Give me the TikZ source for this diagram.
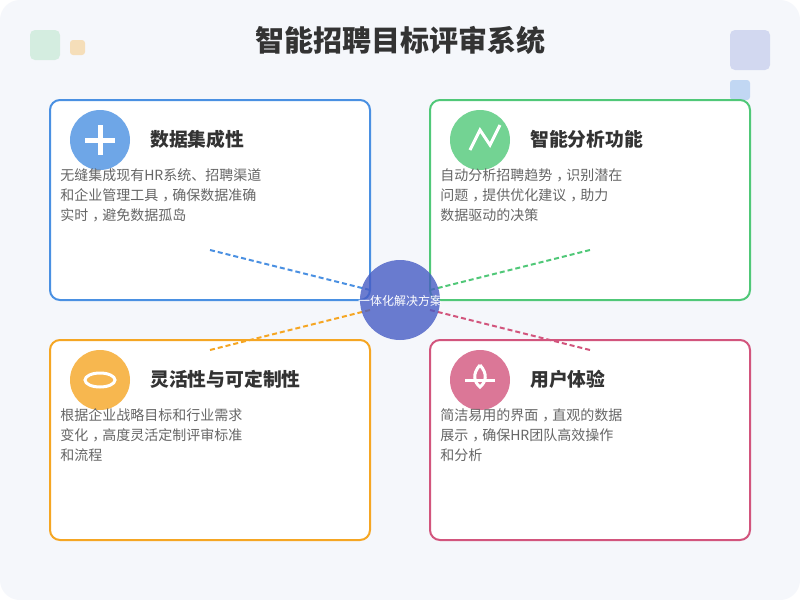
\documentclass[tikz,border=0pt]{standalone}
\usepackage{fontspec}
\setmainfont{Noto Sans CJK SC}
\definecolor{pagebg}{HTML}{F5F7FB}
\definecolor{cblue}{HTML}{4A90E2}
\definecolor{cgreen}{HTML}{50C878}
\definecolor{corange}{HTML}{F5A623}
\definecolor{cpink}{HTML}{D2557D}
\definecolor{cindigo}{HTML}{475CC4}
\definecolor{ctitle}{HTML}{333333}
\definecolor{cbody}{HTML}{666666}
\newcommand\cnc{\kern.3em，\kern-.3em}
\tikzset{
  x=0.75pt,y=-0.75pt,
  cardbox/.style={draw=#1,line width=1.5pt,fill=white,rounded corners=7.5pt,minimum width=240pt,minimum height=150pt,inner sep=0pt,anchor=center},
  iconcircle/.style={circle,fill=#1,fill opacity=0.8,minimum size=45pt,inner sep=0pt},
  icongl/.style={draw=white,line width=#1},
  headtext/.style={anchor=base west,inner sep=0pt,text=ctitle,font=\fontsize{14.1}{17}\selectfont\bfseries},
  bodytext/.style={anchor=north west,inner sep=0pt,align=left,text=cbody,font=\fontsize{10.5}{15}\selectfont},
  linkline/.style={draw=#1,line width=1.5pt,dash pattern=on 3.75pt off 2.25pt},
  decorsoft/.style={fill=#1,fill opacity=0.2},
  decorstrong/.style={fill=#1,fill opacity=0.3},
}
\begin{document}
\begin{tikzpicture}
\useasboundingbox (0,0) rectangle (800,600);
\fill[white] (0,0) rectangle (800,600);
\fill[pagebg,rounded corners=15pt] (0,0) rectangle (800,600);
% decoration
\fill[decorsoft=cgreen,rounded corners=3.75pt] (30,30) rectangle (60,60);
\fill[decorstrong=corange,rounded corners=2.25pt] (70,40) rectangle (85,55);
\fill[decorsoft=cindigo,rounded corners=3.75pt] (730,30) rectangle (770,70);
\fill[decorstrong=cblue,rounded corners=2.25pt] (730,80) rectangle (750,100);
% title
\node[anchor=base,inner sep=0pt,text=ctitle,font=\fontsize{21.75}{26}\selectfont\bfseries] (title) at (400,51.5) {智能招聘目标评审系统};
% cards
\node[cardbox=cblue] (cardA) at (210,200) {};
\node[cardbox=cgreen] (cardB) at (590,200) {};
\node[cardbox=corange] (cardC) at (210,440) {};
\node[cardbox=cpink] (cardD) at (590,440) {};
% icons
\node[iconcircle=cblue] (iconA) at (100,140) {};
\node[iconcircle=cgreen] (iconB) at (480,140) {};
\node[iconcircle=corange] (iconC) at (100,380) {};
\node[iconcircle=cpink] (iconD) at (480,380) {};
\draw[icongl=3.75pt] (85,140) -- (115,140) (100,125) -- (100,155);
\draw[icongl=2.25pt] (470,150) -- (480,130) -- (490,145) -- (500,125);
\draw[icongl=2.25pt] (100,380) ellipse (15 and 7);
\draw[icongl=2.25pt] (465,380) -- (495,380);
\draw[icongl=2.25pt] (480,365) .. controls (472,374) and (474,382) .. (480,387) .. controls (486,382) and (488,374) .. (480,365);
% headings
\node[headtext] (headA) at (150,146) {数据集成性};
\node[headtext] (headB) at (530,146) {智能分析功能};
\node[headtext] (headC) at (150,386) {灵活性与可定制性};
\node[headtext] (headD) at (530,386) {用户体验};
% bodies
\node[bodytext] (bodyA) at (60,168) {无缝集成现有HR系统、招聘渠道\\和企业管理工具\cnc 确保数据准确\\实时\cnc 避免数据孤岛};
\node[bodytext] (bodyB) at (440,168) {自动分析招聘趋势\cnc 识别潜在\\问题\cnc 提供优化建议\cnc 助力\\数据驱动的决策};
\node[bodytext] (bodyC) at (60,408) {根据企业战略目标和行业需求\\变化\cnc 高度灵活定制评审标准\\和流程};
\node[bodytext] (bodyD) at (440,408) {简洁易用的界面\cnc 直观的数据\\展示\cnc 确保HR团队高效操作\\和分析};
% connector ends
\coordinate (startA) at (210,250);
\coordinate (endA) at (370,290);
\coordinate (startB) at (590,250);
\coordinate (endB) at (430,290);
\coordinate (startC) at (210,350);
\coordinate (endC) at (370,310);
\coordinate (startD) at (590,350);
\coordinate (endD) at (430,310);
\draw[linkline=cblue] (startA) -- (endA);
\draw[linkline=cgreen] (startB) -- (endB);
\draw[linkline=corange] (startC) -- (endC);
\draw[linkline=cpink] (startD) -- (endD);
% hub
\node[circle,fill=cindigo,fill opacity=0.8,minimum size=60pt,inner sep=0pt] (hub) at (400,300) {};
\node[anchor=center,inner sep=0pt,text=white,font=\fontsize{9}{11}\selectfont] (hubLabel) at (400,301) {一体化解决方案};
\end{tikzpicture}
\end{document}
